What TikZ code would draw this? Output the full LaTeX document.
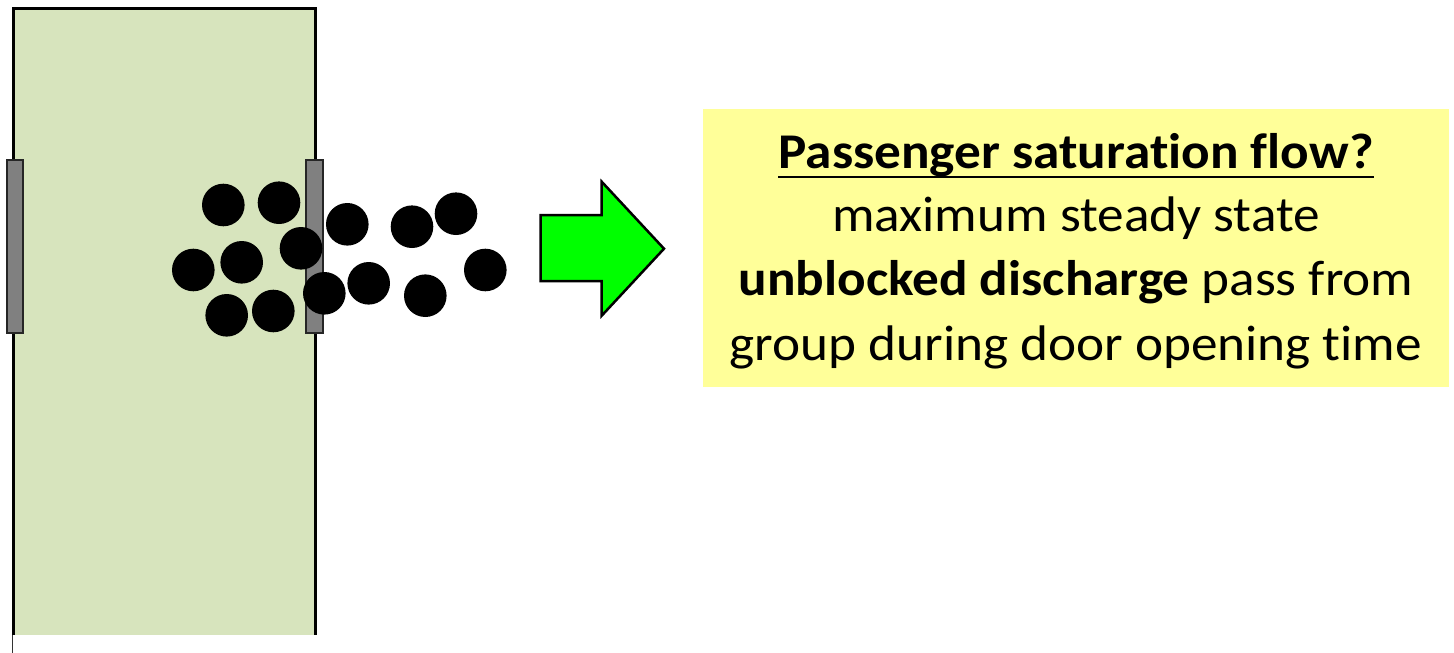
\documentclass[tikz,border=0pt]{standalone}
\usepackage{fontspec}
\setmainfont{Carlito}[Ligatures=NoCommon, FakeStretch=1.065]
\definecolor{carfill}{HTML}{D7E4BD}
\definecolor{notefill}{HTML}{FFFF99}
\definecolor{doorgray}{HTML}{808080}
\definecolor{arrowgreen}{HTML}{00FF00}
\tikzset{
  x=1pt, y=-1pt,
  person/.style={fill=black, draw=none},
  doorpanel/.style={fill=doorgray, draw=black!85, line width=2pt},
  noteline/.style={anchor=base, inner sep=0pt, font=\fontsize{50}{64}\selectfont},
}
\begin{document}
\begin{tikzpicture}
\useasboundingbox (0,0) rectangle (1454,653);

% carriage body (open at the bottom)
\fill[carfill] (13,8) rectangle (315,635);
\draw[line width=3pt, line join=miter] (13,635) -- (13,8) -- (315,8) -- (315,635);
\draw[line width=1pt, black!80] (12.7,635) -- (12.7,653);

% doors
\draw[doorpanel] (7,159.5) rectangle (23,332.5);
\draw[doorpanel] (306,159.5) rectangle (323,332.5);

% passengers
\foreach \px/\py in {223.3/205, 279/202.7, 193.3/270, 241.7/262.3, 301/248.3,
                     226.7/315.3, 273.3/311, 324.3/293.3, 347.3/224.3, 368.7/283.3,
                     412/226.7, 456/213.7, 425.3/295.7, 485.3/270}
  \fill[person] (\px,\py) circle[radius=21.3];

% block arrow
\draw[fill=arrowgreen, line width=2.5pt, line join=miter]
  (540.7,215) -- (601.7,215) -- (601.7,181.7) -- (664,248.7)
  -- (601.7,315.7) -- (601.7,281) -- (540.7,281) -- cycle;

% note box
\node[fill=notefill, minimum width=746, minimum height=278, inner sep=0pt, anchor=north west]
  (note) at (703,109) {};
\node[noteline, font=\fontsize{50}{64}\selectfont\bfseries] (l1) at (1076,168.3) {Passenger saturation flow?};
\draw[line width=2.4pt] ([yshift=-8.4pt]l1.base west) -- ([yshift=-8.4pt]l1.base east);
\node[noteline] (l2) at (1076,231) {maximum steady state};
\node[noteline] (l3) at (1076,295) {\textbf{unblocked discharge} pass from};
\node[noteline] (l4) at (1076,360) {group during door opening time};
\end{tikzpicture}
\end{document}
